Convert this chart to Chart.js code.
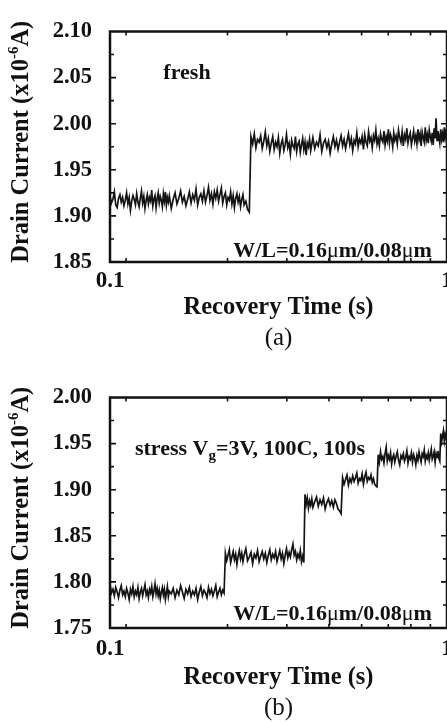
<!DOCTYPE html>
<html>
<head>
<meta charset="utf-8">
<script src="https://cdn.jsdelivr.net/npm/chart.js@4.4.1/dist/chart.umd.min.js"></script>
<style>
  html, body { margin: 0; padding: 0; background: #fff; overflow: hidden; }
  body { width: 447px; height: 723px; position: relative; }
  .panel { position: absolute; left: 0; }
  #panelA { top: 0; }
  #panelB { top: 366px; }
</style>
</head>
<body>
<div class="panel" id="panelA"><canvas id="chartA" width="470" height="360"></canvas></div>
<div class="panel" id="panelB"><canvas id="chartB" width="470" height="360"></canvas></div>
<script>
// recovery time (s), shared by both panels
const times = [
  0.100, 0.101, 0.102, 0.103, 0.104, 0.105, 0.106, 0.107, 0.108, 0.109,
  0.110, 0.111, 0.112, 0.113, 0.114, 0.115, 0.116, 0.117, 0.118, 0.119,
  0.120, 0.121, 0.122, 0.123, 0.124, 0.125, 0.126, 0.127, 0.128, 0.129,
  0.130, 0.131, 0.132, 0.133, 0.134, 0.135, 0.136, 0.137, 0.138, 0.139,
  0.140, 0.141, 0.142, 0.143, 0.144, 0.145, 0.146, 0.147, 0.148, 0.149,
  0.150, 0.152, 0.154, 0.156, 0.158, 0.160, 0.162, 0.164, 0.166, 0.168,
  0.170, 0.172, 0.174, 0.176, 0.178, 0.180, 0.182, 0.184, 0.186, 0.188,
  0.190, 0.192, 0.194, 0.196, 0.198, 0.200, 0.202, 0.204, 0.206, 0.208,
  0.210, 0.212, 0.214, 0.216, 0.218, 0.220, 0.222, 0.224, 0.226, 0.228,
  0.230, 0.232, 0.234, 0.236, 0.238, 0.240, 0.242, 0.244, 0.246, 0.248,
  0.250, 0.253, 0.256, 0.259, 0.262, 0.265, 0.268, 0.271, 0.274, 0.277,
  0.280, 0.283, 0.286, 0.289, 0.292, 0.295, 0.298, 0.301, 0.304, 0.307,
  0.310, 0.313, 0.316, 0.319, 0.322, 0.325, 0.328, 0.331, 0.334, 0.337,
  0.340, 0.343, 0.346, 0.349, 0.352, 0.355, 0.358, 0.361, 0.364, 0.367,
  0.370, 0.373, 0.376, 0.379, 0.382, 0.385, 0.388, 0.391, 0.394, 0.397,
  0.400, 0.405, 0.410, 0.415, 0.420, 0.425, 0.430, 0.435, 0.440, 0.445,
  0.450, 0.455, 0.460, 0.465, 0.470, 0.475, 0.480, 0.485, 0.490, 0.495,
  0.500, 0.505, 0.510, 0.515, 0.520, 0.525, 0.530, 0.535, 0.540, 0.545,
  0.550, 0.555, 0.560, 0.565, 0.570, 0.575, 0.580, 0.585, 0.590, 0.595,
  0.600, 0.605, 0.610, 0.615, 0.620, 0.625, 0.630, 0.635, 0.640, 0.645,
  0.650, 0.655, 0.660, 0.665, 0.670, 0.675, 0.680, 0.685, 0.690, 0.695,
  0.700, 0.706, 0.712, 0.718, 0.724, 0.730, 0.736, 0.742, 0.748, 0.754,
  0.760, 0.766, 0.772, 0.778, 0.784, 0.790, 0.796, 0.802, 0.808, 0.814,
  0.820, 0.826, 0.832, 0.838, 0.844, 0.850, 0.856, 0.862, 0.868, 0.874,
  0.880, 0.886, 0.892, 0.898, 0.904, 0.910, 0.916, 0.922, 0.928, 0.934,
  0.940, 0.946, 0.952, 0.958, 0.964, 0.970, 0.976, 0.982, 0.988, 0.994,
  1.000
];

// drain current (x1e-6 A), fresh device
const currentFresh = [
  1.921, 1.914, 1.918, 1.926, 1.912, 1.909, 1.919, 1.923, 1.915, 1.920,
  1.911, 1.917, 1.925, 1.913, 1.920, 1.906, 1.916, 1.922, 1.918, 1.912,
  1.924, 1.915, 1.910, 1.919, 1.927, 1.914, 1.921, 1.908, 1.917, 1.923,
  1.913, 1.920, 1.916, 1.928, 1.911, 1.918, 1.922, 1.909, 1.919, 1.925,
  1.914, 1.921, 1.917, 1.910, 1.924, 1.916, 1.926, 1.912, 1.920, 1.915,
  1.922, 1.908, 1.918, 1.925, 1.913, 1.919, 1.927, 1.915, 1.921, 1.911,
  1.918, 1.926, 1.914, 1.923, 1.917, 1.929, 1.912, 1.920, 1.924, 1.916,
  1.927, 1.915, 1.922, 1.931, 1.917, 1.924, 1.913, 1.926, 1.919, 1.928,
  1.916, 1.923, 1.930, 1.914, 1.921, 1.925, 1.912, 1.920, 1.917, 1.926,
  1.913, 1.922, 1.909, 1.919, 1.924, 1.915, 1.921, 1.910, 1.918, 1.923,
  1.912, 1.916, 1.907, 1.904, 1.986, 1.978, 1.989, 1.974, 1.983, 1.980,
  1.987, 1.973, 1.981, 1.991, 1.976, 1.984, 1.970, 1.979, 1.986, 1.972,
  1.980, 1.975, 1.985, 1.968, 1.978, 1.983, 1.971, 1.977, 1.988, 1.974,
  1.979, 1.967, 1.982, 1.976, 1.973, 1.986, 1.970, 1.978, 1.981, 1.969,
  1.977, 1.984, 1.972, 1.980, 1.966, 1.979, 1.975, 1.983, 1.971, 1.978,
  1.985, 1.973, 1.980, 1.976, 1.988, 1.970, 1.979, 1.983, 1.974, 1.981,
  1.968, 1.978, 1.986, 1.975, 1.982, 1.972, 1.980, 1.987, 1.976, 1.983,
  1.973, 1.981, 1.989, 1.977, 1.984, 1.971, 1.982, 1.978, 1.990, 1.975,
  1.983, 1.979, 1.986, 1.972, 1.988, 1.980, 1.976, 1.991, 1.981, 1.985,
  1.974, 1.987, 1.982, 1.993, 1.978, 1.984, 1.976, 1.989, 1.983, 1.980,
  1.992, 1.977, 1.986, 1.981, 1.994, 1.979, 1.988, 1.984, 1.975, 1.990,
  1.982, 1.987, 1.978, 1.993, 1.985, 1.980, 1.991, 1.976, 1.988, 1.983,
  1.995, 1.979, 1.986, 1.990, 1.977, 1.984, 1.992, 1.981, 1.987, 1.978,
  1.994, 1.983, 1.989, 1.976, 1.991, 1.985, 1.980, 1.996, 1.982, 1.988,
  1.979, 1.993, 1.986, 1.981, 1.990, 1.977, 1.995, 1.984, 2.006, 1.982,
  1.992, 1.986, 1.979, 1.994, 1.983, 1.989, 1.980, 1.996, 1.985, 1.991,
  1.987
];

// drain current (x1e-6 A) after stress Vg=3V, 100C, 100s
const currentStressed = [
  1.797, 1.788, 1.792, 1.785, 1.794, 1.789, 1.783, 1.791, 1.796, 1.786,
  1.790, 1.784, 1.793, 1.788, 1.781, 1.792, 1.787, 1.795, 1.784, 1.790,
  1.786, 1.794, 1.782, 1.789, 1.793, 1.785, 1.791, 1.797, 1.786, 1.790,
  1.783, 1.792, 1.788, 1.795, 1.784, 1.790, 1.798, 1.787, 1.793, 1.785,
  1.791, 1.782, 1.789, 1.794, 1.786, 1.792, 1.781, 1.788, 1.795, 1.784,
  1.790, 1.787, 1.793, 1.783, 1.791, 1.786, 1.796, 1.789, 1.782, 1.792,
  1.787, 1.794, 1.784, 1.790, 1.786, 1.793, 1.781, 1.789, 1.795, 1.785,
  1.791, 1.788, 1.783, 1.794, 1.787, 1.792, 1.785, 1.790, 1.796, 1.784,
  1.789, 1.793, 1.786, 1.791, 1.788, 1.831, 1.823, 1.829, 1.835, 1.821,
  1.827, 1.833, 1.824, 1.830, 1.819, 1.828, 1.834, 1.825, 1.831, 1.822,
  1.829, 1.836, 1.823, 1.827, 1.832, 1.820, 1.830, 1.826, 1.834, 1.822,
  1.828, 1.833, 1.825, 1.831, 1.821, 1.829, 1.835, 1.824, 1.830, 1.826,
  1.833, 1.822, 1.828, 1.834, 1.825, 1.831, 1.820, 1.829, 1.836, 1.826,
  1.832, 1.827, 1.835, 1.841, 1.829, 1.833, 1.824, 1.830, 1.826, 1.834,
  1.822, 1.828, 1.821, 1.895, 1.884, 1.891, 1.880, 1.888, 1.883, 1.890,
  1.881, 1.887, 1.892, 1.882, 1.889, 1.884, 1.891, 1.879, 1.886, 1.890,
  1.883, 1.888, 1.881, 1.889, 1.885, 1.879, 1.877, 1.874, 1.913, 1.906,
  1.911, 1.916, 1.905, 1.912, 1.908, 1.915, 1.909, 1.913, 1.918, 1.907,
  1.912, 1.910, 1.917, 1.906, 1.914, 1.919, 1.909, 1.913, 1.911, 1.916,
  1.908, 1.912, 1.906, 1.904, 1.903, 1.938, 1.930, 1.941, 1.933, 1.936,
  1.929, 1.939, 1.946, 1.931, 1.937, 1.933, 1.940, 1.928, 1.935, 1.938,
  1.930, 1.936, 1.941, 1.932, 1.927, 1.937, 1.934, 1.939, 1.931, 1.935,
  1.942, 1.929, 1.936, 1.933, 1.940, 1.930, 1.938, 1.934, 1.927, 1.937,
  1.932, 1.941, 1.935, 1.930, 1.939, 1.936, 1.943, 1.931, 1.937, 1.934,
  1.940, 1.932, 1.938, 1.944, 1.933, 1.936, 1.941, 1.930, 1.939, 1.935,
  1.942, 1.934, 1.931, 1.961, 1.952, 1.958, 1.964, 1.953, 1.960, 1.956,
  1.962
];

const xTickValues = [0.1, 1];
const xTickLabels = ['0.1', '1'];
const xMinorTicks = [0.1116, 0.2232, 0.3348, 0.4464, 0.558, 0.6696, 0.7812, 0.8928];
const yTicksFresh = [1.85, 1.90, 1.95, 2.00, 2.05, 2.10];
const yTicksStressed = [1.75, 1.80, 1.85, 1.90, 1.95, 2.00];

const serif = '"Liberation Serif", "Times New Roman", serif';
Chart.defaults.font.family = serif;
Chart.defaults.color = '#111';

const yTitleRuns = [
  { text: 'Drain Current (x10', size: 24.5 },
  { text: '-6', size: 15, dy: -10 },
  { text: 'A)', size: 24.5 }
];
const wlRuns = [
  { text: 'W/L=0.16', size: 22 },
  { text: 'μ', size: 22, weight: 'normal' },
  { text: 'm/0.08', size: 22 },
  { text: 'μ', size: 22, weight: 'normal' },
  { text: 'm', size: 22 }
];

function fontOf(r) {
  return `${r.weight || 'bold'} ${r.size}px ${serif}`;
}

function drawRuns(ctx, runs, x, y, align) {
  let w = 0;
  runs.forEach(r => { ctx.font = fontOf(r); w += ctx.measureText(r.text).width; });
  let cx = align === 'center' ? x - w / 2 : x;
  runs.forEach(r => {
    ctx.font = fontOf(r);
    ctx.fillText(r.text, cx, y + (r.dy || 0));
    cx += ctx.measureText(r.text).width;
  });
}

// frame, inward ticks, rotated y title, notes and caption
function figurePlugin(p) {
  return {
    id: 'figure',
    afterDraw(chart) {
      const { ctx, chartArea: a, scales: { x, y } } = chart;
      ctx.save();
      ctx.strokeStyle = '#111';
      ctx.fillStyle = '#111';
      ctx.textAlign = 'left';
      ctx.textBaseline = 'alphabetic';

      ctx.lineWidth = 1.6;
      ctx.beginPath();
      xMinorTicks.forEach(v => {
        const px = x.getPixelForValue(v);
        ctx.moveTo(px, a.bottom); ctx.lineTo(px, a.bottom - 4);
        ctx.moveTo(px, a.top); ctx.lineTo(px, a.top + 4);
      });
      const yt = y.ticks.map(t => t.value);
      yt.forEach((v, i) => {
        const py = y.getPixelForValue(v);
        if (i > 0 && i < yt.length - 1) {
          ctx.moveTo(a.left, py); ctx.lineTo(a.left + 6, py);
          ctx.moveTo(a.right, py); ctx.lineTo(a.right - 6, py);
        }
        if (i < yt.length - 1) {
          const pm = y.getPixelForValue((v + yt[i + 1]) / 2);
          ctx.moveTo(a.left, pm); ctx.lineTo(a.left + 4, pm);
          ctx.moveTo(a.right, pm); ctx.lineTo(a.right - 4, pm);
        }
      });
      ctx.stroke();

      ctx.lineWidth = 2.5;
      ctx.strokeRect(a.left, a.top, a.right - a.left, a.bottom - a.top);

      p.notes.forEach(n => drawRuns(ctx, n.runs, x.getPixelForValue(n.x), y.getPixelForValue(n.y), 'left'));

      ctx.save();
      ctx.translate(p.yTitleX, (a.top + a.bottom) / 2 - 5);
      ctx.rotate(-Math.PI / 2);
      drawRuns(ctx, yTitleRuns, 0, 0, 'center');
      ctx.restore();

      drawRuns(ctx, [{ text: p.caption, size: 25, weight: 'normal' }],
        (a.left + a.right) / 2, a.bottom + p.captionGap, 'center');
      ctx.restore();
    }
  };
}

function drawPanel(canvasId, current, yTicks, p) {
  return new Chart(document.getElementById(canvasId), {
    type: 'line',
    data: {
      datasets: [{
        data: times.map((t, i) => ({ x: t, y: current[i] })),
        borderColor: '#141414',
        borderWidth: 1.7,
        pointRadius: 0,
        tension: 0,
        fill: false
      }]
    },
    options: {
      responsive: false,
      animation: false,
      events: [],
      layout: { padding: { top: 12, right: 23, left: 0, bottom: 0 } },
      plugins: { legend: { display: false }, tooltip: { enabled: false } },
      scales: {
        x: {
          type: 'logarithmic',
          min: xTickValues[0],
          max: xTickValues[xTickValues.length - 1],
          afterBuildTicks: s => { s.ticks = xTickValues.map(v => ({ value: v })); },
          afterFit: s => { s.height = 98; },
          grid: { display: false, drawTicks: false },
          border: { display: false },
          ticks: {
            autoSkip: false, maxRotation: 0, padding: p.xTickPad,
            font: { size: 23, weight: 'bold' },
            callback: (v, i) => xTickLabels[i]
          },
          title: {
            display: true, text: 'Recovery Time (s)',
            font: { size: 24.5, weight: 'bold' },
            padding: { top: 0, bottom: p.xTitlePad }
          }
        },
        y: {
          min: yTicks[0],
          max: yTicks[yTicks.length - 1],
          afterBuildTicks: s => { s.ticks = yTicks.map(v => ({ value: v })); },
          afterFit: s => { s.width = 110; },
          grid: { display: false, drawTicks: false },
          border: { display: false },
          ticks: {
            padding: 18,
            font: { size: 22.5, weight: 'bold' },
            callback: v => v.toFixed(2)
          }
        }
      }
    },
    plugins: [figurePlugin(p)]
  });
}

drawPanel('chartA', currentFresh, yTicksFresh, {
  xTickPad: 5, xTitlePad: 38, captionGap: 83, yTitleX: 28, caption: '(a)',
  notes: [
    { x: 0.144, y: 2.049, runs: [{ text: 'fresh', size: 22 }] },
    { x: 0.232, y: 1.855, runs: wlRuns }
  ]
});

drawPanel('chartB', currentStressed, yTicksStressed, {
  xTickPad: 7, xTitlePad: 34, captionGap: 87, yTitleX: 28, caption: '(b)',
  notes: [
    { x: 0.1186, y: 1.938, runs: [
      { text: 'stress V', size: 22 },
      { text: 'g', size: 15, dy: 5 },
      { text: '=3V, 100C, 100s', size: 22 }
    ] },
    { x: 0.232, y: 1.759, runs: wlRuns }
  ]
});
</script>
</body>
</html>
